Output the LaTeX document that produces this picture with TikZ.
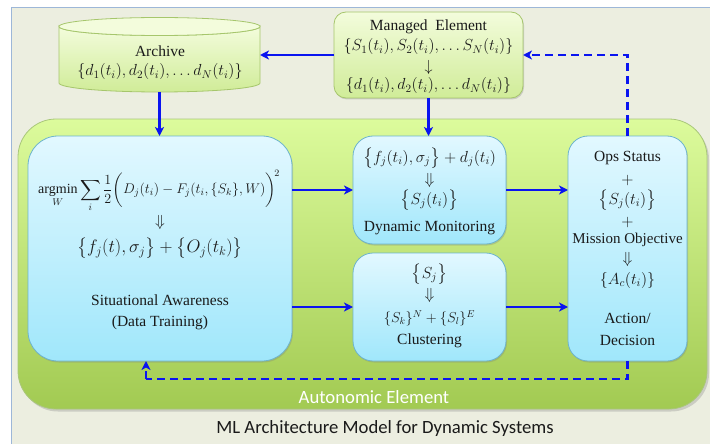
\RequirePackage{fix-cm}
\documentclass[tikz,border=0pt]{standalone}
\usepackage{amsmath}
\usepackage{fontspec}
\setmainfont{Liberation Serif}
\newfontfamily\capfont{Carlito}
\usetikzlibrary{arrows.meta,shadows}
\definecolor{bgc}{HTML}{ECEEE0}
\definecolor{frameblue}{HTML}{9DB7D8}
\definecolor{agtop}{HTML}{DCFB9C}
\definecolor{agbot}{HTML}{A2CA52}
\definecolor{agline}{HTML}{A9C77A}
\definecolor{btop}{HTML}{E2F8FF}
\definecolor{bbot}{HTML}{A0E7FB}
\definecolor{bline}{HTML}{6DB4CC}
\definecolor{gtop}{HTML}{F3FCDC}
\definecolor{gbot}{HTML}{D0EC98}
\definecolor{gline}{HTML}{A6C66C}
\definecolor{txtc}{HTML}{1A1A1A}
\definecolor{arrblue}{HTML}{0A14F0}
\tikzset{
  bluebox/.style={draw=bline, line width=0.8pt, top color=btop, bottom color=bbot,
    inner sep=0pt, outer sep=0pt,
    drop shadow={shadow xshift=1pt, shadow yshift=-1.5pt, opacity=0.3}},
  greenbox/.style={draw=gline, line width=0.8pt, top color=gtop, bottom color=gbot,
    inner sep=0pt, outer sep=0pt,
    drop shadow={shadow xshift=1pt, shadow yshift=-1.5pt, opacity=0.3}},
  txt/.style={inner sep=0pt, text=txtc, font=\fontsize{15.5}{18}\selectfont},
  mtxt/.style={inner sep=0pt, text=txtc, font=\fontsize{16}{19}\selectfont},
  arr/.style={draw=arrblue, line width=2.3pt, -{Stealth[length=9pt,width=9pt,inset=2.5pt]}},
  darr/.style={arr, dash pattern=on 8pt off 5pt},
  dline/.style={draw=arrblue, line width=2.3pt, dash pattern=on 8pt off 5pt}
}
\begin{document}
\begin{tikzpicture}[x=1pt,y=-1pt]
\useasboundingbox (0,0) rectangle (710,444);
\fill[white] (0,0) rectangle (710,444);
\fill[bgc] (11,7) rectangle (712,446);
\draw[frameblue, line width=0.8pt] (11,446) -- (11,7) -- (712,7);

% autonomic element
\node[draw=agline, line width=0.8pt, top color=agtop, bottom color=agbot,
  rounded corners=38pt, minimum width=689pt, minimum height=290pt,
  inner sep=0pt, outer sep=0pt,
  drop shadow={shadow xshift=2pt, shadow yshift=-2.5pt, opacity=0.3}]
  (auto) at (362.5,264) {};
\node[inner sep=0pt, text=white, font=\capfont\fontsize{18.7}{22}\selectfont] (autolbl) at (374,397) {Autonomic Element};
\node[inner sep=0pt, text=txtc, font=\capfont\fontsize{18.7}{22}\selectfont] (caption) at (385,429) {ML Architecture Model for Dynamic Systems};

% archive cylinder
\shade[top color=gtop, bottom color=gbot, draw=gline, line width=0.8pt]
  (59,26.5) -- (59,83) arc[start angle=180, end angle=0, x radius=100.5, y radius=9]
  -- (260,26.5) arc[start angle=0, end angle=180, x radius=100.5, y radius=9] -- cycle;
\filldraw[fill=gtop, draw=gline, line width=0.8pt] (159.5,26.5) ellipse[x radius=100.5, y radius=9];
\node[inner sep=0pt, outer sep=0pt, minimum width=201pt, minimum height=74pt] (archive) at (159.5,55) {};
\node[txt] (arch1) at (160,51) {Archive};
\node[mtxt] (arch2) at (160,72) {$\{d_1(t_i), d_2(t_i), \ldots d_N(t_i)\}$};

% managed element
\node[greenbox, rounded corners=12pt, minimum width=189pt, minimum height=86pt] (me) at (428.5,55) {};
\node[txt] (me1) at (428.5,27) {Managed\ \ Element};
\node[mtxt] (me2) at (428.5,47) {$\{S_1(t_i), S_2(t_i), \ldots S_N(t_i)\}$};
\node[mtxt] (me3) at (428.5,67) {$\downarrow$};
\node[mtxt] (me4) at (428.5,86) {$\{d_1(t_i), d_2(t_i), \ldots d_N(t_i)\}$};

% situational awareness
\node[bluebox, rounded corners=30pt, minimum width=264pt, minimum height=225pt] (sa) at (160,248.5) {};
\node[txt, font=\fontsize{14}{17}\selectfont] (sa1) at (159,191) {$\displaystyle \operatorname*{argmin}_{W} \sum_i \frac{1}{2}\biggl(D_j(t_i) - F_j(t_i,\{S_k\},W)\biggr)^{\!2}$};
\node[mtxt] (sa2) at (160,222) {$\Downarrow$};
\node[txt, font=\fontsize{18}{22}\selectfont] (sa3) at (160,248) {$\bigl\{f_j(t),\sigma_j\bigr\} + \bigl\{O_j(t_k)\bigr\}$};
\node[txt] (sa4) at (160,300) {Situational Awareness};
\node[txt] (sa5) at (160,323) {(Data Training)};

% dynamic monitoring
\node[bluebox, rounded corners=20pt, minimum width=153pt, minimum height=108pt] (dm) at (429.5,190) {};
\node[mtxt] (dm1) at (429.5,158) {$\bigl\{f_j(t_i),\sigma_j\bigr\} + d_j(t_i)$};
\node[mtxt] (dm2) at (429.5,180) {$\Downarrow$};
\node[mtxt] (dm3) at (429.5,200) {$\bigl\{S_j(t_i)\bigr\}$};
\node[txt] (dm4) at (429.5,228) {Dynamic\ Monitoring};

% clustering
\node[bluebox, rounded corners=20pt, minimum width=153pt, minimum height=108pt] (cl) at (429.5,307) {};
\node[mtxt] (cl1) at (429.5,274) {$\bigl\{S_j\bigr\}$};
\node[mtxt] (cl2) at (429.5,295) {$\Downarrow$};
\node[txt, font=\fontsize{14.4}{17}\selectfont] (cl3) at (429.5,318) {$\{S_k\}^N + \{S_l\}^E$};
\node[txt] (cl4) at (429.5,341) {Clustering};

% ops / action
\node[bluebox, rounded corners=20pt, minimum width=119pt, minimum height=225pt] (ops) at (627.5,248.5) {};
\node[txt] (op1) at (627.5,158) {Ops Status};
\node[mtxt] (op2) at (627.5,180) {$+$};
\node[mtxt] (op3) at (627.5,200) {$\bigl\{S_j(t_i)\bigr\}$};
\node[mtxt] (op4) at (627.5,222) {$+$};
\node[txt, font=\fontsize{15}{18}\selectfont] (op5) at (627.5,240) {Mission Objective};
\node[mtxt] (op6) at (627.5,259) {$\Downarrow$};
\node[mtxt] (op7) at (627.5,280) {$\{A_c(t_i)\}$};
\node[txt] (op8) at (627.5,318) {Action/};
\node[txt] (op9) at (627.5,340) {Decision};

% connectors
\draw[arr] (me.west) -- (archive.east);
\draw[arr] (archive.south) -- (archive.south |- sa.north);
\draw[arr] (me.south) -- (me.south |- dm.north);
\draw[arr] (sa.east |- dm.west) -- (dm.west);
\draw[arr] (sa.east |- cl.west) -- (cl.west);
\draw[arr] (dm.east) -- (ops.west |- dm.east);
\draw[arr] (cl.east) -- (ops.west |- cl.east);
\draw[darr] (ops.north) |- (me.east);
\coordinate (fb) at (146,379);
\draw[dline] (ops.south) |- (fb);
\draw[darr] (fb) -- (fb |- sa.south);
\end{tikzpicture}
\end{document}
